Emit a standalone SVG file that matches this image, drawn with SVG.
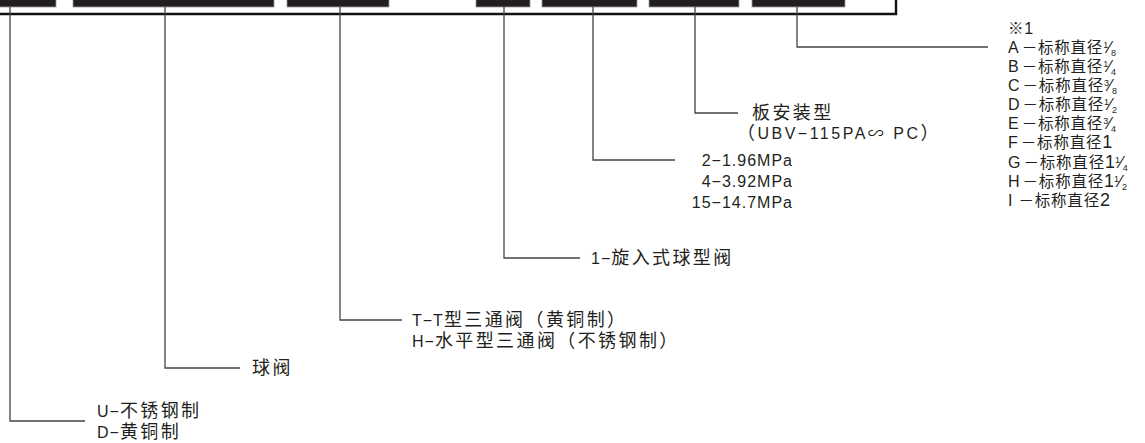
<svg xmlns="http://www.w3.org/2000/svg" width="1145" height="443" viewBox="0 0 1145 443">
<style>
.box{fill:#231f20;stroke:#9a9a9a;stroke-width:0.8}
.frame{fill:none;stroke:#111;stroke-width:2.4}
.lead{fill:none;stroke:#444;stroke-width:1.3}
text{font-family:"Liberation Sans","Noto Sans CJK SC",sans-serif;fill:#231f20}
.t{font-size:16px;letter-spacing:1px}
.c{font-size:18px;letter-spacing:2.4px}
.r{font-size:16px}
.rc{font-size:15.5px;letter-spacing:0.8px}
.s{font-size:9px}
.sl{font-size:17px}
</style>
<rect width="1145" height="443" fill="#fff"/>
<g id="frame">
<path class="frame" d="M0 14 H896 V0"/>
<rect class="box" x="-2" y="-2" width="58" height="9"/>
<rect class="box" x="73" y="-2" width="201" height="9"/>
<rect class="box" x="287" y="-2" width="102" height="9"/>
<rect class="box" x="476" y="-2" width="54" height="9"/>
<rect class="box" x="542" y="-2" width="95" height="9"/>
<rect class="box" x="649" y="-2" width="90" height="9"/>
<rect class="box" x="752" y="-2" width="93" height="9"/>
</g>
<g id="connectors">
<path class="lead" d="M10 7 V421 H85"/>
<path class="lead" d="M165 7 V368 H240"/>
<path class="lead" d="M340 7 V320 H402"/>
<path class="lead" d="M504 7 V258 H580"/>
<path class="lead" d="M593 7 V160 H675"/>
<path class="lead" d="M695 7 V113 H738"/>
<path class="lead" d="M797 7 V47 H988"/>
</g>
<g id="material">
<text class="t" x="97" y="417">U−<tspan class="c">不锈钢制</tspan></text>
<text class="t" x="97" y="438">D−<tspan class="c">黄铜制</tspan></text>
</g>
<g id="ballvalve">
<text class="t" x="252" y="374"><tspan class="c">球阀</tspan></text>
</g>
<g id="threeway">
<text class="t" x="412" y="326">T−T<tspan class="c">型三通阀（黄铜制）</tspan></text>
<text class="t" x="412" y="347">H−<tspan class="c">水平型三通阀（不锈钢制）</tspan></text>
</g>
<g id="screwin">
<text class="t" x="591" y="264">1−<tspan class="c">旋入式球型阀</tspan></text>
</g>
<g id="pressure">
<text class="t" x="793" y="166" text-anchor="end">2−1.96MPa</text>
<text class="t" x="793" y="187" text-anchor="end">4−3.92MPa</text>
<text class="t" x="793" y="208" text-anchor="end">15−14.7MPa</text>
</g>
<g id="panel">
<text class="t" x="752" y="119"><tspan class="c">板安装型</tspan></text>
<text class="t" x="737" y="139"><tspan class="c">（</tspan><tspan letter-spacing="2.5">UBV−115PA∽ PC</tspan><tspan class="c">）</tspan></text>
</g>
<g id="size">
<text class="r" x="1008" y="34"><tspan class="rc">※</tspan>1</text>
<text class="r" x="1008" y="53">A<tspan class="rc" dx="3">－标称直径</tspan><tspan class="s" dy="-5">1</tspan><tspan class="sl" dy="5">⁄</tspan><tspan class="s" dy="3">8</tspan></text>
<text class="r" x="1008" y="72">B<tspan class="rc" dx="3">－标称直径</tspan><tspan class="s" dy="-5">1</tspan><tspan class="sl" dy="5">⁄</tspan><tspan class="s" dy="3">4</tspan></text>
<text class="r" x="1008" y="91">C<tspan class="rc" dx="3">－标称直径</tspan><tspan class="s" dy="-5">3</tspan><tspan class="sl" dy="5">⁄</tspan><tspan class="s" dy="3">8</tspan></text>
<text class="r" x="1008" y="110">D<tspan class="rc" dx="3">－标称直径</tspan><tspan class="s" dy="-5">1</tspan><tspan class="sl" dy="5">⁄</tspan><tspan class="s" dy="3">2</tspan></text>
<text class="r" x="1008" y="129">E<tspan class="rc" dx="3">－标称直径</tspan><tspan class="s" dy="-5">3</tspan><tspan class="sl" dy="5">⁄</tspan><tspan class="s" dy="3">4</tspan></text>
<text class="r" x="1008" y="148">F<tspan class="rc" dx="3">－标称直径</tspan><tspan font-size="18">1</tspan></text>
<text class="r" x="1008" y="168">G<tspan class="rc" dx="3">－标称直径</tspan><tspan font-size="18">1</tspan><tspan class="s" dy="-5">1</tspan><tspan class="sl" dy="5">⁄</tspan><tspan class="s" dy="3">4</tspan></text>
<text class="r" x="1008" y="187">H<tspan class="rc" dx="3">－标称直径</tspan><tspan font-size="18">1</tspan><tspan class="s" dy="-5">1</tspan><tspan class="sl" dy="5">⁄</tspan><tspan class="s" dy="3">2</tspan></text>
<text class="r" x="1008" y="206">I<tspan class="rc" dx="6">－标称直径</tspan><tspan font-size="18">2</tspan></text>
</g>
</svg>
